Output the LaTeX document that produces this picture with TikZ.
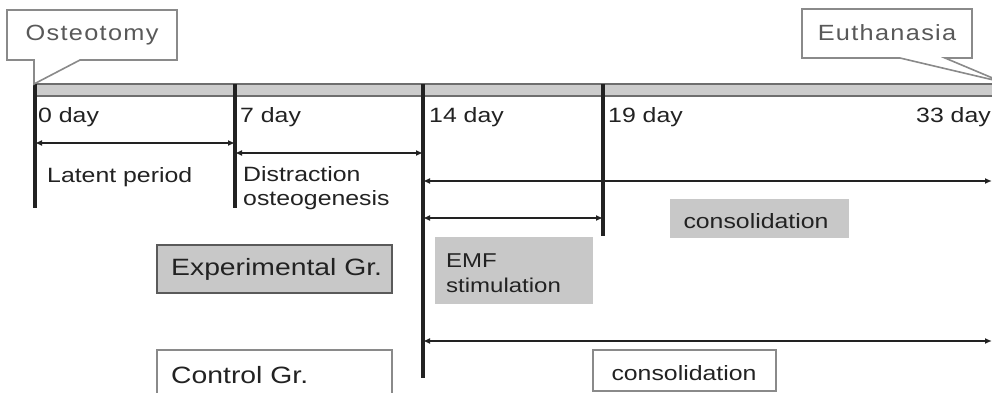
\documentclass[tikz,border=0pt]{standalone}
\usepackage{fontspec}
\setmainfont[FakeStretch=1.2]{Liberation Sans}
\newfontfamily\calloutfont[FakeStretch=1.15,LetterSpace=6]{Liberation Sans}
\usetikzlibrary{arrows.meta}
\definecolor{barfill}{HTML}{CCCCCC}
\definecolor{barline}{HTML}{6E6E6E}
\definecolor{ink}{HTML}{222222}
\definecolor{boxfill}{HTML}{C8C8C8}
\definecolor{boxline}{HTML}{5A5A5A}
\definecolor{liteline}{HTML}{8A8A8A}
\begin{document}
\begin{tikzpicture}[x=1pt,y=-1pt,
  tick/.style={draw=ink,line width=3.4pt},
  span/.style={draw=ink,line width=2.8pt,{Latex[length=7pt,width=6pt]}-{Latex[length=7pt,width=6pt]}},
  lbl/.style={inner sep=0pt,text=ink,font=\fontsize{20.7}{24.5}\selectfont,anchor=west,align=left},
  glbl/.style={inner sep=0pt,text=ink,font=\fontsize{23.6}{27}\selectfont,anchor=west},
  callout/.style={draw=liteline,line width=1.6pt,fill=white,line join=miter},
  ctext/.style={inner sep=0pt,text=ink!75,font=\calloutfont\fontsize{22}{26}\selectfont}
]
\useasboundingbox (0,0) rectangle (992,392);
\fill[white] (0,0) rectangle (992,392);

% timeline bar
\draw[fill=barfill,draw=barline,line width=1.2pt] (35,84) rectangle (1000,96);

% tick coordinates
\coordinate (d0t) at (35,84);   \coordinate (d0b) at (35,208);
\coordinate (d7t) at (235,84);  \coordinate (d7b) at (235,208);
\coordinate (d14t) at (423,84); \coordinate (d14b) at (423,378);
\coordinate (d19t) at (603,84); \coordinate (d19b) at (603,236);
\draw[tick] (d0t) -- (d0b);
\draw[tick] (d7t) -- (d7b);
\draw[tick] (d14t) -- (d14b);
\draw[tick] (d19t) -- (d19b);

% day labels
\node[lbl] (l0) at (38,117) {0 day};
\node[lbl] (l7) at (240,117) {7 day};
\node[lbl] (l14) at (429,117) {14 day};
\node[lbl] (l19) at (608,117) {19 day};
\node[lbl,anchor=east] (l33) at (991,117) {33 day};

% spans
\coordinate (a1) at (35,143);  \coordinate (a2) at (235,143);
\coordinate (b1) at (235,153); \coordinate (b2) at (423,153);
\coordinate (c1) at (423,181); \coordinate (c2) at (992,181);
\coordinate (e1) at (423,218); \coordinate (e2) at (603,218);
\coordinate (f1) at (423,341); \coordinate (f2) at (992,341);
\draw[span] (a1) -- (a2);
\draw[span] (b1) -- (b2);
\draw[span] (c1) -- (c2);
\draw[span] (e1) -- (e2);
\draw[span] (f1) -- (f2);

\node[lbl] (latent) at (47,177) {Latent period};
\node[lbl] (distr) at (243,188) {Distraction\\osteogenesis};

% boxes
\fill[boxfill] (435,237) rectangle (593,304);
\node[lbl,font=\fontsize{20}{25}\selectfont] (emf) at (446,273) {EMF\\stimulation};

\fill[boxfill] (670,199) rectangle (849,238);
\node[lbl,anchor=center] (cons1) at (756,221) {consolidation};

\draw[fill=boxfill,draw=boxline,line width=1.2pt] (157,245) rectangle (392,293);
\node[glbl] (exp) at (171,269) {Experimental Gr.};

\draw[fill=white,draw=liteline,line width=1.2pt] (157,350) rectangle (392,402);
\node[glbl] (ctrl) at (171,375) {Control Gr.};

\draw[fill=white,draw=liteline,line width=1.2pt] (593,350) rectangle (776,391);
\node[lbl,anchor=center] (cons2) at (684,373) {consolidation};

% callouts
\draw[callout] (34,84) -- (34,60) -- (7,60) -- (7,10) -- (177,10) -- (177,60) -- (80,60) -- cycle;
\node[ctext] (ost) at (92,35) {Osteotomy};
\draw[callout] (1002,82) -- (945,58) -- (972,58) -- (972,9) -- (802,9) -- (802,58) -- (900,58) -- cycle;
\node[ctext] (euth) at (887,33) {Euthanasia};
\end{tikzpicture}
\end{document}
